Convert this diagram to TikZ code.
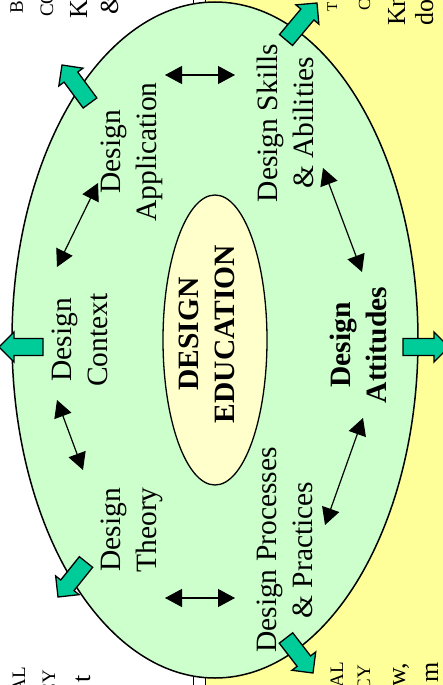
\documentclass[tikz,border=0pt]{standalone}
\usepackage{fontspec}
\setmainfont{Liberation Serif}
\usetikzlibrary{arrows.meta,calc}

\definecolor{paleyellow}{HTML}{FFFF99}
\definecolor{mint}{HTML}{CCFFCC}
\definecolor{cream}{HTML}{FFFFCC}
\definecolor{tealfill}{HTML}{00CC99}

\tikzset{
  lbl/.style={rotate=90, align=center, inner sep=0pt,
              font=\fontsize{29.5}{36}\selectfont},
  boldlbl/.style={lbl, font=\fontsize{29.5}{36}\selectfont\bfseries},
  smallfrag/.style={rotate=90, inner sep=0pt, font=\fontsize{19}{22}\selectfont},
  bigfrag/.style={rotate=90, inner sep=0pt, font=\fontsize{26}{30}\selectfont},
  dblarrow/.style={line width=1.2pt, {Triangle[length=17pt,width=18pt]}-{Triangle[length=17pt,width=18pt]}},
  tealarrow/.style={draw=black, line width=1.3pt, fill=tealfill, line join=miter},
}

% outward block arrow from base #1 to tip #2
\newcommand\blockarrow[2]{%
  \coordinate (h) at ($(#2)!15pt!(#1)$);
  \draw[tealarrow] ($(#1)!8.5pt!90:(#2)$) -- ($(h)!8.5pt!90:(#2)$)
    -- ($(h)!15pt!90:(#2)$) -- (#2) -- ($(h)!15pt!-90:(#2)$)
    -- ($(h)!8.5pt!-90:(#2)$) -- ($(#1)!8.5pt!-90:(#2)$) -- cycle;}

\begin{document}
\begin{tikzpicture}[x=1pt,y=-1pt]
\useasboundingbox (0,0) rectangle (443,685);
\clip (0,0) rectangle (443,685);

% background panels
\draw[line width=1pt, fill=white] (-20,-20) rectangle (193,720);
\draw[line width=1pt, fill=paleyellow] (205,-20) rectangle (470,720);

% text running on in the panels
\node[smallfrag, anchor=base west] (tl1) at (23,14) {B};
\node[smallfrag, anchor=base west] (tl2) at (53,17) {CO};
\node[bigfrag, anchor=base west] (tl3) at (87,19) {K};
\node[bigfrag, anchor=base west] (tl4) at (118,15) {\&};
\node[smallfrag, anchor=base west, font=\fontsize{15}{18}\selectfont] (tr1) at (337,12) {T};
\node[smallfrag, anchor=base west, font=\fontsize{17}{20}\selectfont] (tr2) at (370,11) {C};
\node[bigfrag, anchor=base west] (tr3) at (405,26) {Kn};
\node[bigfrag, anchor=base west] (tr4) at (433,26) {do};
\node[smallfrag, anchor=base east] (bl1) at (25,667) {AL};
\node[smallfrag, anchor=base east] (bl2) at (55,670) {CY};
\node[bigfrag, anchor=base east] (bl3) at (90,675) {t};
\node[smallfrag, anchor=base east] (br1) at (343,662) {AL};
\node[smallfrag, anchor=base east] (br2) at (370,665) {CY};
\node[bigfrag, anchor=base east] (br3) at (405,663) {w,};
\node[bigfrag, anchor=base east] (br4) at (438,662) {m};

% outer ellipse
\draw[fill=mint, line width=1.5pt] (215,340) ellipse [x radius=203, y radius=338];

% outward arrows
\coordinate (lb) at (43,347);  \coordinate (lt) at (-1,347);
\coordinate (rb) at (403,347); \coordinate (rt) at (449,347);
\coordinate (tlb) at (90,103); \coordinate (tlt) at (62,65);
\coordinate (trb) at (286,40); \coordinate (trt) at (317,3);
\coordinate (blb) at (86,562); \coordinate (blt) at (58,597);
\coordinate (brb) at (286,638); \coordinate (brt) at (313,673);
\blockarrow{lb}{lt}
\blockarrow{rb}{rt}
\blockarrow{tlb}{tlt}
\blockarrow{trb}{trt}
\blockarrow{blb}{blt}
\blockarrow{brb}{brt}

% inner ellipse
\draw[fill=cream, line width=1.3pt] (215,340) ellipse [x radius=52, y radius=145];
\node[boldlbl] (edu) at (207,334) {DESIGN\\EDUCATION};

% topic labels
\node[lbl] (ctx) at (80,340) {Design\\Context};
\node[lbl] (theory) at (132,530) {Design\\Theory};
\node[lbl] (app) at (132,152) {Design\\Application};
\node[lbl] (skills) at (285,123) {Design Skills\\\& Abilities};
\node[boldlbl] (att) at (358,345) {Design\\Attitudes};
\node[lbl] (proc) at (285,550) {Design Processes\\\& Practices};

% links between topics
\coordinate (a1) at (165,75);  \coordinate (a2) at (235,75);
\coordinate (b1) at (165,598); \coordinate (b2) at (235,598);
\coordinate (c1) at (98,183);  \coordinate (c2) at (57,267);
\coordinate (d1) at (57,400);  \coordinate (d2) at (83,470);
\coordinate (e1) at (323,168); \coordinate (e2) at (362,272);
\coordinate (f1) at (363,418); \coordinate (f2) at (325,525);
\draw[dblarrow] (a1) -- (a2);
\draw[dblarrow] (b1) -- (b2);
\draw[dblarrow] (c1) -- (c2);
\draw[dblarrow] (d1) -- (d2);
\draw[dblarrow] (e1) -- (e2);
\draw[dblarrow] (f1) -- (f2);
\end{tikzpicture}
\end{document}
